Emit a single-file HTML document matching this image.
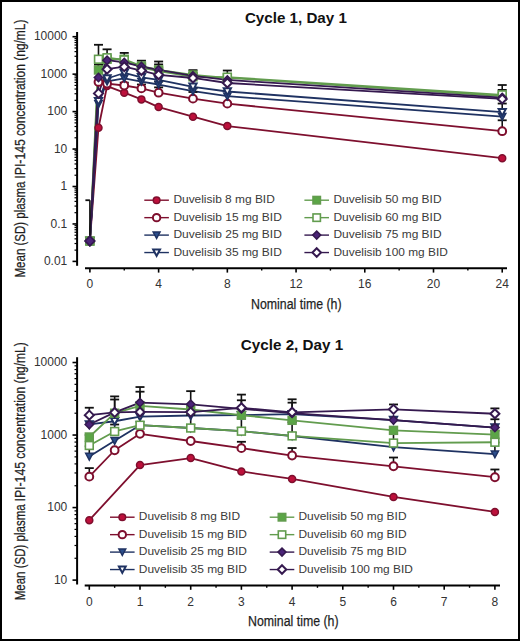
<!DOCTYPE html>
<html><head><meta charset="utf-8"><style>
html,body{margin:0;padding:0;background:#fff;}
body{width:520px;height:641px;overflow:hidden;}
svg{display:block;font-family:"Liberation Sans", sans-serif;}
</style></head><body>
<svg width="520" height="641" viewBox="0 0 520 641">
<rect x="0" y="0" width="520" height="641" fill="#fff"/>
<line x1="77.1" y1="32" x2="77.1" y2="265.8" stroke="#000" stroke-width="2"/>
<line x1="72.5" y1="36.70" x2="77.1" y2="36.70" stroke="#000" stroke-width="1.6"/>
<text x="67.30" y="40.30" font-size="12" text-anchor="end" font-weight="normal" fill="#333333">10000</text>
<line x1="72.5" y1="74.15" x2="77.1" y2="74.15" stroke="#000" stroke-width="1.6"/>
<text x="67.30" y="77.75" font-size="12" text-anchor="end" font-weight="normal" fill="#333333">1000</text>
<line x1="72.5" y1="111.60" x2="77.1" y2="111.60" stroke="#000" stroke-width="1.6"/>
<text x="67.30" y="115.20" font-size="12" text-anchor="end" font-weight="normal" fill="#333333">100</text>
<line x1="72.5" y1="149.05" x2="77.1" y2="149.05" stroke="#000" stroke-width="1.6"/>
<text x="67.30" y="152.65" font-size="12" text-anchor="end" font-weight="normal" fill="#333333">10</text>
<line x1="72.5" y1="186.50" x2="77.1" y2="186.50" stroke="#000" stroke-width="1.6"/>
<text x="67.30" y="190.10" font-size="12" text-anchor="end" font-weight="normal" fill="#333333">1</text>
<line x1="72.5" y1="223.95" x2="77.1" y2="223.95" stroke="#000" stroke-width="1.6"/>
<text x="67.30" y="227.55" font-size="12" text-anchor="end" font-weight="normal" fill="#333333">0.1</text>
<line x1="72.5" y1="261.40" x2="77.1" y2="261.40" stroke="#000" stroke-width="1.6"/>
<text x="67.30" y="265.00" font-size="12" text-anchor="end" font-weight="normal" fill="#333333">0.01</text>
<line x1="74.5" y1="250.13" x2="77.1" y2="250.13" stroke="#000" stroke-width="1.2"/>
<line x1="74.5" y1="243.53" x2="77.1" y2="243.53" stroke="#000" stroke-width="1.2"/>
<line x1="74.5" y1="238.85" x2="77.1" y2="238.85" stroke="#000" stroke-width="1.2"/>
<line x1="74.5" y1="235.22" x2="77.1" y2="235.22" stroke="#000" stroke-width="1.2"/>
<line x1="74.5" y1="232.26" x2="77.1" y2="232.26" stroke="#000" stroke-width="1.2"/>
<line x1="74.5" y1="229.75" x2="77.1" y2="229.75" stroke="#000" stroke-width="1.2"/>
<line x1="74.5" y1="227.58" x2="77.1" y2="227.58" stroke="#000" stroke-width="1.2"/>
<line x1="74.5" y1="225.66" x2="77.1" y2="225.66" stroke="#000" stroke-width="1.2"/>
<line x1="74.5" y1="212.68" x2="77.1" y2="212.68" stroke="#000" stroke-width="1.2"/>
<line x1="74.5" y1="206.08" x2="77.1" y2="206.08" stroke="#000" stroke-width="1.2"/>
<line x1="74.5" y1="201.40" x2="77.1" y2="201.40" stroke="#000" stroke-width="1.2"/>
<line x1="74.5" y1="197.77" x2="77.1" y2="197.77" stroke="#000" stroke-width="1.2"/>
<line x1="74.5" y1="194.81" x2="77.1" y2="194.81" stroke="#000" stroke-width="1.2"/>
<line x1="74.5" y1="192.30" x2="77.1" y2="192.30" stroke="#000" stroke-width="1.2"/>
<line x1="74.5" y1="190.13" x2="77.1" y2="190.13" stroke="#000" stroke-width="1.2"/>
<line x1="74.5" y1="188.21" x2="77.1" y2="188.21" stroke="#000" stroke-width="1.2"/>
<line x1="74.5" y1="175.23" x2="77.1" y2="175.23" stroke="#000" stroke-width="1.2"/>
<line x1="74.5" y1="168.63" x2="77.1" y2="168.63" stroke="#000" stroke-width="1.2"/>
<line x1="74.5" y1="163.95" x2="77.1" y2="163.95" stroke="#000" stroke-width="1.2"/>
<line x1="74.5" y1="160.32" x2="77.1" y2="160.32" stroke="#000" stroke-width="1.2"/>
<line x1="74.5" y1="157.36" x2="77.1" y2="157.36" stroke="#000" stroke-width="1.2"/>
<line x1="74.5" y1="154.85" x2="77.1" y2="154.85" stroke="#000" stroke-width="1.2"/>
<line x1="74.5" y1="152.68" x2="77.1" y2="152.68" stroke="#000" stroke-width="1.2"/>
<line x1="74.5" y1="150.76" x2="77.1" y2="150.76" stroke="#000" stroke-width="1.2"/>
<line x1="74.5" y1="137.78" x2="77.1" y2="137.78" stroke="#000" stroke-width="1.2"/>
<line x1="74.5" y1="131.18" x2="77.1" y2="131.18" stroke="#000" stroke-width="1.2"/>
<line x1="74.5" y1="126.50" x2="77.1" y2="126.50" stroke="#000" stroke-width="1.2"/>
<line x1="74.5" y1="122.87" x2="77.1" y2="122.87" stroke="#000" stroke-width="1.2"/>
<line x1="74.5" y1="119.91" x2="77.1" y2="119.91" stroke="#000" stroke-width="1.2"/>
<line x1="74.5" y1="117.40" x2="77.1" y2="117.40" stroke="#000" stroke-width="1.2"/>
<line x1="74.5" y1="115.23" x2="77.1" y2="115.23" stroke="#000" stroke-width="1.2"/>
<line x1="74.5" y1="113.31" x2="77.1" y2="113.31" stroke="#000" stroke-width="1.2"/>
<line x1="74.5" y1="100.33" x2="77.1" y2="100.33" stroke="#000" stroke-width="1.2"/>
<line x1="74.5" y1="93.73" x2="77.1" y2="93.73" stroke="#000" stroke-width="1.2"/>
<line x1="74.5" y1="89.05" x2="77.1" y2="89.05" stroke="#000" stroke-width="1.2"/>
<line x1="74.5" y1="85.42" x2="77.1" y2="85.42" stroke="#000" stroke-width="1.2"/>
<line x1="74.5" y1="82.46" x2="77.1" y2="82.46" stroke="#000" stroke-width="1.2"/>
<line x1="74.5" y1="79.95" x2="77.1" y2="79.95" stroke="#000" stroke-width="1.2"/>
<line x1="74.5" y1="77.78" x2="77.1" y2="77.78" stroke="#000" stroke-width="1.2"/>
<line x1="74.5" y1="75.86" x2="77.1" y2="75.86" stroke="#000" stroke-width="1.2"/>
<line x1="74.5" y1="62.88" x2="77.1" y2="62.88" stroke="#000" stroke-width="1.2"/>
<line x1="74.5" y1="56.28" x2="77.1" y2="56.28" stroke="#000" stroke-width="1.2"/>
<line x1="74.5" y1="51.60" x2="77.1" y2="51.60" stroke="#000" stroke-width="1.2"/>
<line x1="74.5" y1="47.97" x2="77.1" y2="47.97" stroke="#000" stroke-width="1.2"/>
<line x1="74.5" y1="45.01" x2="77.1" y2="45.01" stroke="#000" stroke-width="1.2"/>
<line x1="74.5" y1="42.50" x2="77.1" y2="42.50" stroke="#000" stroke-width="1.2"/>
<line x1="74.5" y1="40.33" x2="77.1" y2="40.33" stroke="#000" stroke-width="1.2"/>
<line x1="74.5" y1="38.41" x2="77.1" y2="38.41" stroke="#000" stroke-width="1.2"/>
<line x1="85" y1="268.2" x2="507" y2="268.2" stroke="#000" stroke-width="2"/>
<line x1="89.90" y1="268.2" x2="89.90" y2="272.59999999999997" stroke="#000" stroke-width="1.6"/>
<text x="89.90" y="288.40" font-size="12" text-anchor="middle" font-weight="normal" fill="#333333">0</text>
<line x1="158.62" y1="268.2" x2="158.62" y2="272.59999999999997" stroke="#000" stroke-width="1.6"/>
<text x="158.62" y="288.40" font-size="12" text-anchor="middle" font-weight="normal" fill="#333333">4</text>
<line x1="227.34" y1="268.2" x2="227.34" y2="272.59999999999997" stroke="#000" stroke-width="1.6"/>
<text x="227.34" y="288.40" font-size="12" text-anchor="middle" font-weight="normal" fill="#333333">8</text>
<line x1="296.06" y1="268.2" x2="296.06" y2="272.59999999999997" stroke="#000" stroke-width="1.6"/>
<text x="296.06" y="288.40" font-size="12" text-anchor="middle" font-weight="normal" fill="#333333">12</text>
<line x1="364.78" y1="268.2" x2="364.78" y2="272.59999999999997" stroke="#000" stroke-width="1.6"/>
<text x="364.78" y="288.40" font-size="12" text-anchor="middle" font-weight="normal" fill="#333333">16</text>
<line x1="433.50" y1="268.2" x2="433.50" y2="272.59999999999997" stroke="#000" stroke-width="1.6"/>
<text x="433.50" y="288.40" font-size="12" text-anchor="middle" font-weight="normal" fill="#333333">20</text>
<line x1="502.22" y1="268.2" x2="502.22" y2="272.59999999999997" stroke="#000" stroke-width="1.6"/>
<text x="502.22" y="288.40" font-size="12" text-anchor="middle" font-weight="normal" fill="#333333">24</text>
<line x1="124.26" y1="268.2" x2="124.26" y2="270.59999999999997" stroke="#000" stroke-width="1.4"/>
<line x1="192.98" y1="268.2" x2="192.98" y2="270.59999999999997" stroke="#000" stroke-width="1.4"/>
<line x1="261.70" y1="268.2" x2="261.70" y2="270.59999999999997" stroke="#000" stroke-width="1.4"/>
<line x1="330.42" y1="268.2" x2="330.42" y2="270.59999999999997" stroke="#000" stroke-width="1.4"/>
<line x1="399.14" y1="268.2" x2="399.14" y2="270.59999999999997" stroke="#000" stroke-width="1.4"/>
<line x1="467.86" y1="268.2" x2="467.86" y2="270.59999999999997" stroke="#000" stroke-width="1.4"/>
<polyline points="89.90,241.02 98.49,127.77 107.08,86.09 124.26,92.68 141.44,99.38 158.62,107.08 192.98,116.72 227.34,126.10 502.22,158.19" fill="none" stroke="#7e0f2e" stroke-width="1.8" stroke-linejoin="round"/>
<polyline points="89.90,241.02 98.49,81.92 107.08,83.58 124.26,85.49 141.44,88.38 158.62,92.68 192.98,98.63 227.34,103.65 502.22,131.18" fill="none" stroke="#7e0f2e" stroke-width="1.8" stroke-linejoin="round"/>
<polyline points="89.90,241.02 98.49,103.96 107.08,81.41 124.26,78.32 141.44,81.61 158.62,84.51 192.98,91.18 227.34,96.18 502.22,116.61" fill="none" stroke="#1f3262" stroke-width="1.8" stroke-linejoin="round"/>
<polyline points="89.90,241.02 98.49,101.16 107.08,78.49 124.26,72.99 141.44,77.30 158.62,79.95 192.98,86.82 227.34,91.51 502.22,112.10" fill="none" stroke="#1f3262" stroke-width="1.8" stroke-linejoin="round"/>
<polyline points="89.90,241.02 98.49,70.01 107.08,59.25 124.26,59.25 141.44,66.01 158.62,69.88 192.98,74.98 227.34,77.78 502.22,96.06" fill="none" stroke="#629c4e" stroke-width="1.8" stroke-linejoin="round"/>
<polyline points="89.90,241.02 98.49,59.25 107.08,57.76 124.26,59.91 141.44,67.56 158.62,71.18 192.98,76.79 227.34,77.18 502.22,94.85" fill="none" stroke="#629c4e" stroke-width="1.8" stroke-linejoin="round"/>
<polyline points="89.90,241.02 98.49,77.48 107.08,60.22 124.26,62.40 141.44,66.51 158.62,69.88 192.98,75.86 227.34,79.95 502.22,97.57" fill="none" stroke="#35194f" stroke-width="1.8" stroke-linejoin="round"/>
<polyline points="89.90,241.02 98.49,93.41 107.08,69.20 124.26,66.71 141.44,70.52 158.62,74.81 192.98,77.98 227.34,83.01 502.22,98.92" fill="none" stroke="#35194f" stroke-width="1.8" stroke-linejoin="round"/>
<line x1="98.49" y1="59.25" x2="98.49" y2="44.79" stroke="#111" stroke-width="1.6"/>
<line x1="93.99" y1="44.79" x2="102.99" y2="44.79" stroke="#111" stroke-width="1.8"/>
<line x1="98.49" y1="81.92" x2="98.49" y2="80.91" stroke="#111" stroke-width="1.6"/>
<line x1="93.99" y1="80.91" x2="102.99" y2="80.91" stroke="#111" stroke-width="1.8"/>
<line x1="98.49" y1="70.01" x2="98.49" y2="64.59" stroke="#111" stroke-width="1.6"/>
<line x1="93.99" y1="64.59" x2="102.99" y2="64.59" stroke="#111" stroke-width="1.8"/>
<line x1="107.08" y1="57.76" x2="107.08" y2="49.33" stroke="#111" stroke-width="1.6"/>
<line x1="102.58" y1="49.33" x2="111.58" y2="49.33" stroke="#111" stroke-width="1.8"/>
<line x1="124.26" y1="59.25" x2="124.26" y2="52.91" stroke="#111" stroke-width="1.6"/>
<line x1="119.76" y1="52.91" x2="128.76" y2="52.91" stroke="#111" stroke-width="1.8"/>
<line x1="124.26" y1="85.49" x2="124.26" y2="82.62" stroke="#111" stroke-width="1.6"/>
<line x1="119.76" y1="82.62" x2="128.76" y2="82.62" stroke="#111" stroke-width="1.8"/>
<line x1="141.44" y1="66.01" x2="141.44" y2="60.67" stroke="#111" stroke-width="1.6"/>
<line x1="136.94" y1="60.67" x2="145.94" y2="60.67" stroke="#111" stroke-width="1.8"/>
<line x1="141.44" y1="66.51" x2="141.44" y2="65.33" stroke="#111" stroke-width="1.6"/>
<line x1="136.94" y1="65.33" x2="145.94" y2="65.33" stroke="#111" stroke-width="1.8"/>
<line x1="141.44" y1="88.38" x2="141.44" y2="84.48" stroke="#111" stroke-width="1.6"/>
<line x1="136.94" y1="84.48" x2="145.94" y2="84.48" stroke="#111" stroke-width="1.8"/>
<line x1="158.62" y1="69.88" x2="158.62" y2="61.51" stroke="#111" stroke-width="1.6"/>
<line x1="154.12" y1="61.51" x2="163.12" y2="61.51" stroke="#111" stroke-width="1.8"/>
<line x1="158.62" y1="69.88" x2="158.62" y2="64.41" stroke="#111" stroke-width="1.6"/>
<line x1="154.12" y1="64.41" x2="163.12" y2="64.41" stroke="#111" stroke-width="1.8"/>
<line x1="158.62" y1="84.51" x2="158.62" y2="81.61" stroke="#111" stroke-width="1.6"/>
<line x1="154.12" y1="81.61" x2="163.12" y2="81.61" stroke="#111" stroke-width="1.8"/>
<line x1="158.62" y1="92.68" x2="158.62" y2="87.39" stroke="#111" stroke-width="1.6"/>
<line x1="154.12" y1="87.39" x2="163.12" y2="87.39" stroke="#111" stroke-width="1.8"/>
<line x1="192.98" y1="74.98" x2="192.98" y2="70.13" stroke="#111" stroke-width="1.6"/>
<line x1="188.48" y1="70.13" x2="197.48" y2="70.13" stroke="#111" stroke-width="1.8"/>
<line x1="192.98" y1="75.86" x2="192.98" y2="73.67" stroke="#111" stroke-width="1.6"/>
<line x1="188.48" y1="73.67" x2="197.48" y2="73.67" stroke="#111" stroke-width="1.8"/>
<line x1="192.98" y1="98.63" x2="192.98" y2="92.03" stroke="#111" stroke-width="1.6"/>
<line x1="188.48" y1="92.03" x2="197.48" y2="92.03" stroke="#111" stroke-width="1.8"/>
<line x1="192.98" y1="91.18" x2="192.98" y2="88.26" stroke="#111" stroke-width="1.6"/>
<line x1="188.48" y1="88.26" x2="197.48" y2="88.26" stroke="#111" stroke-width="1.8"/>
<line x1="227.34" y1="77.18" x2="227.34" y2="70.52" stroke="#111" stroke-width="1.6"/>
<line x1="222.84" y1="70.52" x2="231.84" y2="70.52" stroke="#111" stroke-width="1.8"/>
<line x1="502.22" y1="94.85" x2="502.22" y2="85.01" stroke="#111" stroke-width="1.6"/>
<line x1="497.72" y1="85.01" x2="506.72" y2="85.01" stroke="#111" stroke-width="1.8"/>
<line x1="502.22" y1="96.06" x2="502.22" y2="89.89" stroke="#111" stroke-width="1.6"/>
<line x1="497.72" y1="89.89" x2="506.72" y2="89.89" stroke="#111" stroke-width="1.8"/>
<line x1="502.22" y1="112.10" x2="502.22" y2="103.55" stroke="#111" stroke-width="1.6"/>
<line x1="497.72" y1="103.55" x2="506.72" y2="103.55" stroke="#111" stroke-width="1.8"/>
<line x1="502.22" y1="131.18" x2="502.22" y2="120.29" stroke="#111" stroke-width="1.6"/>
<line x1="497.72" y1="120.29" x2="506.72" y2="120.29" stroke="#111" stroke-width="1.8"/>
<line x1="89.90" y1="241.02" x2="89.90" y2="200.23" stroke="#111" stroke-width="1.6"/>
<line x1="85.40" y1="200.23" x2="89.90" y2="200.23" stroke="#111" stroke-width="1.8"/>
<circle cx="89.90" cy="241.02" r="3.50" fill="#bd103b" stroke="#7e0f2e" stroke-width="1.5"/>
<circle cx="98.49" cy="127.77" r="3.50" fill="#bd103b" stroke="#7e0f2e" stroke-width="1.5"/>
<circle cx="107.08" cy="86.09" r="3.50" fill="#bd103b" stroke="#7e0f2e" stroke-width="1.5"/>
<circle cx="124.26" cy="92.68" r="3.50" fill="#bd103b" stroke="#7e0f2e" stroke-width="1.5"/>
<circle cx="141.44" cy="99.38" r="3.50" fill="#bd103b" stroke="#7e0f2e" stroke-width="1.5"/>
<circle cx="158.62" cy="107.08" r="3.50" fill="#bd103b" stroke="#7e0f2e" stroke-width="1.5"/>
<circle cx="192.98" cy="116.72" r="3.50" fill="#bd103b" stroke="#7e0f2e" stroke-width="1.5"/>
<circle cx="227.34" cy="126.10" r="3.50" fill="#bd103b" stroke="#7e0f2e" stroke-width="1.5"/>
<circle cx="502.22" cy="158.19" r="3.50" fill="#bd103b" stroke="#7e0f2e" stroke-width="1.5"/>
<circle cx="89.90" cy="241.02" r="3.90" fill="#ffffff" stroke="#7e0f2e" stroke-width="2.0"/>
<circle cx="98.49" cy="81.92" r="3.90" fill="#ffffff" stroke="#7e0f2e" stroke-width="2.0"/>
<circle cx="107.08" cy="83.58" r="3.90" fill="#ffffff" stroke="#7e0f2e" stroke-width="2.0"/>
<circle cx="124.26" cy="85.49" r="3.90" fill="#ffffff" stroke="#7e0f2e" stroke-width="2.0"/>
<circle cx="141.44" cy="88.38" r="3.90" fill="#ffffff" stroke="#7e0f2e" stroke-width="2.0"/>
<circle cx="158.62" cy="92.68" r="3.90" fill="#ffffff" stroke="#7e0f2e" stroke-width="2.0"/>
<circle cx="192.98" cy="98.63" r="3.90" fill="#ffffff" stroke="#7e0f2e" stroke-width="2.0"/>
<circle cx="227.34" cy="103.65" r="3.90" fill="#ffffff" stroke="#7e0f2e" stroke-width="2.0"/>
<circle cx="502.22" cy="131.18" r="3.90" fill="#ffffff" stroke="#7e0f2e" stroke-width="2.0"/>
<path d="M86.30,237.82H93.50L89.90,244.62Z" fill="#2c4f8c" stroke="#1f3262" stroke-width="1.5" stroke-linejoin="miter"/>
<path d="M94.89,100.76H102.09L98.49,107.56Z" fill="#2c4f8c" stroke="#1f3262" stroke-width="1.5" stroke-linejoin="miter"/>
<path d="M103.48,78.21H110.68L107.08,85.01Z" fill="#2c4f8c" stroke="#1f3262" stroke-width="1.5" stroke-linejoin="miter"/>
<path d="M120.66,75.12H127.86L124.26,81.92Z" fill="#2c4f8c" stroke="#1f3262" stroke-width="1.5" stroke-linejoin="miter"/>
<path d="M137.84,78.41H145.04L141.44,85.21Z" fill="#2c4f8c" stroke="#1f3262" stroke-width="1.5" stroke-linejoin="miter"/>
<path d="M155.02,81.31H162.22L158.62,88.11Z" fill="#2c4f8c" stroke="#1f3262" stroke-width="1.5" stroke-linejoin="miter"/>
<path d="M189.38,87.98H196.58L192.98,94.78Z" fill="#2c4f8c" stroke="#1f3262" stroke-width="1.5" stroke-linejoin="miter"/>
<path d="M223.74,92.98H230.94L227.34,99.78Z" fill="#2c4f8c" stroke="#1f3262" stroke-width="1.5" stroke-linejoin="miter"/>
<path d="M498.62,113.41H505.82L502.22,120.21Z" fill="#2c4f8c" stroke="#1f3262" stroke-width="1.5" stroke-linejoin="miter"/>
<path d="M86.30,237.82H93.50L89.90,244.62Z" fill="#ffffff" stroke="#1f3262" stroke-width="2.0" stroke-linejoin="miter"/>
<path d="M94.89,97.96H102.09L98.49,104.76Z" fill="#ffffff" stroke="#1f3262" stroke-width="2.0" stroke-linejoin="miter"/>
<path d="M103.48,75.29H110.68L107.08,82.09Z" fill="#ffffff" stroke="#1f3262" stroke-width="2.0" stroke-linejoin="miter"/>
<path d="M120.66,69.79H127.86L124.26,76.59Z" fill="#ffffff" stroke="#1f3262" stroke-width="2.0" stroke-linejoin="miter"/>
<path d="M137.84,74.10H145.04L141.44,80.90Z" fill="#ffffff" stroke="#1f3262" stroke-width="2.0" stroke-linejoin="miter"/>
<path d="M155.02,76.75H162.22L158.62,83.55Z" fill="#ffffff" stroke="#1f3262" stroke-width="2.0" stroke-linejoin="miter"/>
<path d="M189.38,83.62H196.58L192.98,90.42Z" fill="#ffffff" stroke="#1f3262" stroke-width="2.0" stroke-linejoin="miter"/>
<path d="M223.74,88.31H230.94L227.34,95.11Z" fill="#ffffff" stroke="#1f3262" stroke-width="2.0" stroke-linejoin="miter"/>
<path d="M498.62,108.90H505.82L502.22,115.70Z" fill="#ffffff" stroke="#1f3262" stroke-width="2.0" stroke-linejoin="miter"/>
<rect x="86.00" y="237.12" width="7.80" height="7.80" fill="#5ba646" stroke="#629c4e" stroke-width="1.6"/>
<rect x="94.59" y="66.11" width="7.80" height="7.80" fill="#5ba646" stroke="#629c4e" stroke-width="1.6"/>
<rect x="103.18" y="55.35" width="7.80" height="7.80" fill="#5ba646" stroke="#629c4e" stroke-width="1.6"/>
<rect x="120.36" y="55.35" width="7.80" height="7.80" fill="#5ba646" stroke="#629c4e" stroke-width="1.6"/>
<rect x="137.54" y="62.11" width="7.80" height="7.80" fill="#5ba646" stroke="#629c4e" stroke-width="1.6"/>
<rect x="154.72" y="65.98" width="7.80" height="7.80" fill="#5ba646" stroke="#629c4e" stroke-width="1.6"/>
<rect x="189.08" y="71.08" width="7.80" height="7.80" fill="#5ba646" stroke="#629c4e" stroke-width="1.6"/>
<rect x="223.44" y="73.88" width="7.80" height="7.80" fill="#5ba646" stroke="#629c4e" stroke-width="1.6"/>
<rect x="498.32" y="92.16" width="7.80" height="7.80" fill="#5ba646" stroke="#629c4e" stroke-width="1.6"/>
<rect x="86.00" y="237.12" width="7.80" height="7.80" fill="#ffffff" stroke="#629c4e" stroke-width="1.6"/>
<rect x="94.59" y="55.35" width="7.80" height="7.80" fill="#ffffff" stroke="#629c4e" stroke-width="1.6"/>
<rect x="103.18" y="53.86" width="7.80" height="7.80" fill="#ffffff" stroke="#629c4e" stroke-width="1.6"/>
<rect x="120.36" y="56.01" width="7.80" height="7.80" fill="#ffffff" stroke="#629c4e" stroke-width="1.6"/>
<rect x="137.54" y="63.66" width="7.80" height="7.80" fill="#ffffff" stroke="#629c4e" stroke-width="1.6"/>
<rect x="154.72" y="67.28" width="7.80" height="7.80" fill="#ffffff" stroke="#629c4e" stroke-width="1.6"/>
<rect x="189.08" y="72.89" width="7.80" height="7.80" fill="#ffffff" stroke="#629c4e" stroke-width="1.6"/>
<rect x="223.44" y="73.28" width="7.80" height="7.80" fill="#ffffff" stroke="#629c4e" stroke-width="1.6"/>
<rect x="498.32" y="90.95" width="7.80" height="7.80" fill="#ffffff" stroke="#629c4e" stroke-width="1.6"/>
<path d="M89.90,236.82L94.10,241.02L89.90,245.22L85.70,241.02Z" fill="#4b2378" stroke="#35194f" stroke-width="1.5"/>
<path d="M98.49,73.28L102.69,77.48L98.49,81.68L94.29,77.48Z" fill="#4b2378" stroke="#35194f" stroke-width="1.5"/>
<path d="M107.08,56.02L111.28,60.22L107.08,64.42L102.88,60.22Z" fill="#4b2378" stroke="#35194f" stroke-width="1.5"/>
<path d="M124.26,58.20L128.46,62.40L124.26,66.60L120.06,62.40Z" fill="#4b2378" stroke="#35194f" stroke-width="1.5"/>
<path d="M141.44,62.31L145.64,66.51L141.44,70.71L137.24,66.51Z" fill="#4b2378" stroke="#35194f" stroke-width="1.5"/>
<path d="M158.62,65.68L162.82,69.88L158.62,74.08L154.42,69.88Z" fill="#4b2378" stroke="#35194f" stroke-width="1.5"/>
<path d="M192.98,71.66L197.18,75.86L192.98,80.06L188.78,75.86Z" fill="#4b2378" stroke="#35194f" stroke-width="1.5"/>
<path d="M227.34,75.75L231.54,79.95L227.34,84.15L223.14,79.95Z" fill="#4b2378" stroke="#35194f" stroke-width="1.5"/>
<path d="M502.22,93.37L506.42,97.57L502.22,101.77L498.02,97.57Z" fill="#4b2378" stroke="#35194f" stroke-width="1.5"/>
<path d="M89.90,236.52L94.40,241.02L89.90,245.52L85.40,241.02Z" fill="#ffffff" stroke="#35194f" stroke-width="2.0"/>
<path d="M98.49,88.91L102.99,93.41L98.49,97.91L93.99,93.41Z" fill="#ffffff" stroke="#35194f" stroke-width="2.0"/>
<path d="M107.08,64.70L111.58,69.20L107.08,73.70L102.58,69.20Z" fill="#ffffff" stroke="#35194f" stroke-width="2.0"/>
<path d="M124.26,62.21L128.76,66.71L124.26,71.21L119.76,66.71Z" fill="#ffffff" stroke="#35194f" stroke-width="2.0"/>
<path d="M141.44,66.02L145.94,70.52L141.44,75.02L136.94,70.52Z" fill="#ffffff" stroke="#35194f" stroke-width="2.0"/>
<path d="M158.62,70.31L163.12,74.81L158.62,79.31L154.12,74.81Z" fill="#ffffff" stroke="#35194f" stroke-width="2.0"/>
<path d="M192.98,73.48L197.48,77.98L192.98,82.48L188.48,77.98Z" fill="#ffffff" stroke="#35194f" stroke-width="2.0"/>
<path d="M227.34,78.51L231.84,83.01L227.34,87.51L222.84,83.01Z" fill="#ffffff" stroke="#35194f" stroke-width="2.0"/>
<path d="M502.22,94.42L506.72,98.92L502.22,103.42L497.72,98.92Z" fill="#ffffff" stroke="#35194f" stroke-width="2.0"/>
<path d="M89.90,236.32L94.60,241.02L89.90,245.73L85.20,241.02Z" fill="#4b2378" stroke="#35194f" stroke-width="1.5"/>
<line x1="144.30" y1="200.20" x2="168.90" y2="200.20" stroke="#7e0f2e" stroke-width="1.4"/>
<circle cx="156.60" cy="200.20" r="3.32" fill="#bd103b" stroke="#7e0f2e" stroke-width="1.5"/>
<text x="173.40" y="203.40" font-size="11" text-anchor="start" font-weight="normal" fill="#3a3a3a" textLength="101.4" lengthAdjust="spacingAndGlyphs">Duvelisib 8 mg BID</text>
<line x1="144.30" y1="217.65" x2="168.90" y2="217.65" stroke="#7e0f2e" stroke-width="1.4"/>
<circle cx="156.60" cy="217.65" r="3.70" fill="#ffffff" stroke="#7e0f2e" stroke-width="2.0"/>
<text x="173.40" y="220.85" font-size="11" text-anchor="start" font-weight="normal" fill="#3a3a3a" textLength="108.4" lengthAdjust="spacingAndGlyphs">Duvelisib 15 mg BID</text>
<line x1="144.30" y1="235.10" x2="168.90" y2="235.10" stroke="#1f3262" stroke-width="1.4"/>
<path d="M153.18,232.06H160.02L156.60,238.52Z" fill="#2c4f8c" stroke="#1f3262" stroke-width="1.5" stroke-linejoin="miter"/>
<text x="173.40" y="238.30" font-size="11" text-anchor="start" font-weight="normal" fill="#3a3a3a" textLength="108.4" lengthAdjust="spacingAndGlyphs">Duvelisib 25 mg BID</text>
<line x1="144.30" y1="252.55" x2="168.90" y2="252.55" stroke="#1f3262" stroke-width="1.4"/>
<path d="M153.18,249.51H160.02L156.60,255.97Z" fill="#ffffff" stroke="#1f3262" stroke-width="2.0" stroke-linejoin="miter"/>
<text x="173.40" y="255.75" font-size="11" text-anchor="start" font-weight="normal" fill="#3a3a3a" textLength="108.4" lengthAdjust="spacingAndGlyphs">Duvelisib 35 mg BID</text>
<line x1="304.40" y1="200.20" x2="329.00" y2="200.20" stroke="#629c4e" stroke-width="1.4"/>
<rect x="313.00" y="196.49" width="7.41" height="7.41" fill="#5ba646" stroke="#629c4e" stroke-width="1.6"/>
<text x="333.50" y="203.40" font-size="11" text-anchor="start" font-weight="normal" fill="#3a3a3a" textLength="108.0" lengthAdjust="spacingAndGlyphs">Duvelisib 50 mg BID</text>
<line x1="304.40" y1="217.65" x2="329.00" y2="217.65" stroke="#629c4e" stroke-width="1.4"/>
<rect x="313.00" y="213.94" width="7.41" height="7.41" fill="#ffffff" stroke="#629c4e" stroke-width="1.6"/>
<text x="333.50" y="220.85" font-size="11" text-anchor="start" font-weight="normal" fill="#3a3a3a" textLength="108.0" lengthAdjust="spacingAndGlyphs">Duvelisib 60 mg BID</text>
<line x1="304.40" y1="235.10" x2="329.00" y2="235.10" stroke="#35194f" stroke-width="1.4"/>
<path d="M316.70,231.11L320.69,235.10L316.70,239.09L312.71,235.10Z" fill="#4b2378" stroke="#35194f" stroke-width="1.5"/>
<text x="333.50" y="238.30" font-size="11" text-anchor="start" font-weight="normal" fill="#3a3a3a" textLength="108.0" lengthAdjust="spacingAndGlyphs">Duvelisib 75 mg BID</text>
<line x1="304.40" y1="252.55" x2="329.00" y2="252.55" stroke="#35194f" stroke-width="1.4"/>
<path d="M316.70,248.27L320.97,252.55L316.70,256.82L312.43,252.55Z" fill="#ffffff" stroke="#35194f" stroke-width="2.0"/>
<text x="333.50" y="255.75" font-size="11" text-anchor="start" font-weight="normal" fill="#3a3a3a" textLength="114.3" lengthAdjust="spacingAndGlyphs">Duvelisib 100 mg BID</text>
<text x="244.90" y="23.40" font-size="14.5" text-anchor="start" font-weight="bold" fill="#111" textLength="102.0" lengthAdjust="spacingAndGlyphs">Cycle 1, Day 1</text>
<text x="251.00" y="308.90" font-size="15.2" text-anchor="start" font-weight="normal" fill="#1e1e1e" textLength="90.6" lengthAdjust="spacingAndGlyphs" stroke="#1e1e1e" stroke-width="0.25">Nominal time (h)</text>
<text x="0" y="0" transform="translate(25.0,277.50) rotate(-90)" font-size="15" fill="#1e1e1e" stroke="#1e1e1e" stroke-width="0.25" textLength="96.0" lengthAdjust="spacingAndGlyphs">Mean (SD) plasma</text>
<text x="0" y="0" transform="translate(25.0,178.70) rotate(-90)" font-size="15" fill="#1e1e1e" stroke="#1e1e1e" stroke-width="0.25" textLength="39.6" lengthAdjust="spacingAndGlyphs">IPI-145</text>
<text x="0" y="0" transform="translate(25.0,136.00) rotate(-90)" font-size="15" fill="#1e1e1e" stroke="#1e1e1e" stroke-width="0.25" textLength="116.5" lengthAdjust="spacingAndGlyphs">concentration (ng/mL)</text>
<line x1="77.1" y1="357.2" x2="77.1" y2="584.5" stroke="#000" stroke-width="2"/>
<line x1="72.5" y1="362.51" x2="77.1" y2="362.51" stroke="#000" stroke-width="1.6"/>
<text x="67.30" y="366.11" font-size="12" text-anchor="end" font-weight="normal" fill="#333333">10000</text>
<line x1="72.5" y1="435.04" x2="77.1" y2="435.04" stroke="#000" stroke-width="1.6"/>
<text x="67.30" y="438.64" font-size="12" text-anchor="end" font-weight="normal" fill="#333333">1000</text>
<line x1="72.5" y1="507.57" x2="77.1" y2="507.57" stroke="#000" stroke-width="1.6"/>
<text x="67.30" y="511.17" font-size="12" text-anchor="end" font-weight="normal" fill="#333333">100</text>
<line x1="72.5" y1="580.10" x2="77.1" y2="580.10" stroke="#000" stroke-width="1.6"/>
<text x="67.30" y="583.70" font-size="12" text-anchor="end" font-weight="normal" fill="#333333">10</text>
<line x1="74.5" y1="558.27" x2="77.1" y2="558.27" stroke="#000" stroke-width="1.2"/>
<line x1="74.5" y1="545.49" x2="77.1" y2="545.49" stroke="#000" stroke-width="1.2"/>
<line x1="74.5" y1="536.43" x2="77.1" y2="536.43" stroke="#000" stroke-width="1.2"/>
<line x1="74.5" y1="529.40" x2="77.1" y2="529.40" stroke="#000" stroke-width="1.2"/>
<line x1="74.5" y1="523.66" x2="77.1" y2="523.66" stroke="#000" stroke-width="1.2"/>
<line x1="74.5" y1="518.81" x2="77.1" y2="518.81" stroke="#000" stroke-width="1.2"/>
<line x1="74.5" y1="514.60" x2="77.1" y2="514.60" stroke="#000" stroke-width="1.2"/>
<line x1="74.5" y1="510.89" x2="77.1" y2="510.89" stroke="#000" stroke-width="1.2"/>
<line x1="74.5" y1="485.74" x2="77.1" y2="485.74" stroke="#000" stroke-width="1.2"/>
<line x1="74.5" y1="472.96" x2="77.1" y2="472.96" stroke="#000" stroke-width="1.2"/>
<line x1="74.5" y1="463.90" x2="77.1" y2="463.90" stroke="#000" stroke-width="1.2"/>
<line x1="74.5" y1="456.87" x2="77.1" y2="456.87" stroke="#000" stroke-width="1.2"/>
<line x1="74.5" y1="451.13" x2="77.1" y2="451.13" stroke="#000" stroke-width="1.2"/>
<line x1="74.5" y1="446.28" x2="77.1" y2="446.28" stroke="#000" stroke-width="1.2"/>
<line x1="74.5" y1="442.07" x2="77.1" y2="442.07" stroke="#000" stroke-width="1.2"/>
<line x1="74.5" y1="438.36" x2="77.1" y2="438.36" stroke="#000" stroke-width="1.2"/>
<line x1="74.5" y1="413.21" x2="77.1" y2="413.21" stroke="#000" stroke-width="1.2"/>
<line x1="74.5" y1="400.43" x2="77.1" y2="400.43" stroke="#000" stroke-width="1.2"/>
<line x1="74.5" y1="391.37" x2="77.1" y2="391.37" stroke="#000" stroke-width="1.2"/>
<line x1="74.5" y1="384.34" x2="77.1" y2="384.34" stroke="#000" stroke-width="1.2"/>
<line x1="74.5" y1="378.60" x2="77.1" y2="378.60" stroke="#000" stroke-width="1.2"/>
<line x1="74.5" y1="373.75" x2="77.1" y2="373.75" stroke="#000" stroke-width="1.2"/>
<line x1="74.5" y1="369.54" x2="77.1" y2="369.54" stroke="#000" stroke-width="1.2"/>
<line x1="74.5" y1="365.83" x2="77.1" y2="365.83" stroke="#000" stroke-width="1.2"/>
<line x1="84.7" y1="585.4" x2="500" y2="585.4" stroke="#000" stroke-width="2"/>
<line x1="89.30" y1="585.4" x2="89.30" y2="589.8" stroke="#000" stroke-width="1.6"/>
<text x="89.30" y="605.60" font-size="12" text-anchor="middle" font-weight="normal" fill="#333333">0</text>
<line x1="140.00" y1="585.4" x2="140.00" y2="589.8" stroke="#000" stroke-width="1.6"/>
<text x="140.00" y="605.60" font-size="12" text-anchor="middle" font-weight="normal" fill="#333333">1</text>
<line x1="190.70" y1="585.4" x2="190.70" y2="589.8" stroke="#000" stroke-width="1.6"/>
<text x="190.70" y="605.60" font-size="12" text-anchor="middle" font-weight="normal" fill="#333333">2</text>
<line x1="241.40" y1="585.4" x2="241.40" y2="589.8" stroke="#000" stroke-width="1.6"/>
<text x="241.40" y="605.60" font-size="12" text-anchor="middle" font-weight="normal" fill="#333333">3</text>
<line x1="292.10" y1="585.4" x2="292.10" y2="589.8" stroke="#000" stroke-width="1.6"/>
<text x="292.10" y="605.60" font-size="12" text-anchor="middle" font-weight="normal" fill="#333333">4</text>
<line x1="342.80" y1="585.4" x2="342.80" y2="589.8" stroke="#000" stroke-width="1.6"/>
<text x="342.80" y="605.60" font-size="12" text-anchor="middle" font-weight="normal" fill="#333333">5</text>
<line x1="393.50" y1="585.4" x2="393.50" y2="589.8" stroke="#000" stroke-width="1.6"/>
<text x="393.50" y="605.60" font-size="12" text-anchor="middle" font-weight="normal" fill="#333333">6</text>
<line x1="444.20" y1="585.4" x2="444.20" y2="589.8" stroke="#000" stroke-width="1.6"/>
<text x="444.20" y="605.60" font-size="12" text-anchor="middle" font-weight="normal" fill="#333333">7</text>
<line x1="494.90" y1="585.4" x2="494.90" y2="589.8" stroke="#000" stroke-width="1.6"/>
<text x="494.90" y="605.60" font-size="12" text-anchor="middle" font-weight="normal" fill="#333333">8</text>
<line x1="114.65" y1="585.4" x2="114.65" y2="587.8" stroke="#000" stroke-width="1.4"/>
<line x1="165.35" y1="585.4" x2="165.35" y2="587.8" stroke="#000" stroke-width="1.4"/>
<line x1="216.05" y1="585.4" x2="216.05" y2="587.8" stroke="#000" stroke-width="1.4"/>
<line x1="266.75" y1="585.4" x2="266.75" y2="587.8" stroke="#000" stroke-width="1.4"/>
<line x1="317.45" y1="585.4" x2="317.45" y2="587.8" stroke="#000" stroke-width="1.4"/>
<line x1="368.15" y1="585.4" x2="368.15" y2="587.8" stroke="#000" stroke-width="1.4"/>
<line x1="418.85" y1="585.4" x2="418.85" y2="587.8" stroke="#000" stroke-width="1.4"/>
<line x1="469.55" y1="585.4" x2="469.55" y2="587.8" stroke="#000" stroke-width="1.4"/>
<polyline points="89.30,520.18 140.00,465.02 190.70,458.09 241.40,471.43 292.10,478.96 393.50,496.97 494.90,511.96" fill="none" stroke="#7e0f2e" stroke-width="1.8" stroke-linejoin="round"/>
<polyline points="89.30,476.64 114.65,450.25 140.00,433.80 190.70,440.99 241.40,448.13 292.10,455.52 393.50,466.27 494.90,477.23" fill="none" stroke="#7e0f2e" stroke-width="1.8" stroke-linejoin="round"/>
<polyline points="89.30,456.44 114.65,440.80 140.00,425.19 190.70,428.01 241.40,431.19 292.10,436.00 393.50,447.19 494.90,454.16" fill="none" stroke="#1f3262" stroke-width="1.8" stroke-linejoin="round"/>
<polyline points="89.30,424.44 114.65,421.24 140.00,416.70 190.70,415.49 241.40,415.16 292.10,414.17 393.50,420.04 494.90,427.56" fill="none" stroke="#1f3262" stroke-width="1.8" stroke-linejoin="round"/>
<polyline points="89.30,436.99 114.65,413.21 140.00,405.80 190.70,409.50 241.40,415.24 292.10,420.33 393.50,430.36 494.90,434.57" fill="none" stroke="#629c4e" stroke-width="1.8" stroke-linejoin="round"/>
<polyline points="89.30,445.48 114.65,431.47 140.00,425.19 190.70,428.01 241.40,431.19 292.10,435.87 393.50,443.07 494.90,442.23" fill="none" stroke="#629c4e" stroke-width="1.8" stroke-linejoin="round"/>
<polyline points="89.30,424.53 114.65,412.43 140.00,402.61 190.70,404.34 241.40,408.80 292.10,413.21 393.50,420.04 494.90,427.56" fill="none" stroke="#35194f" stroke-width="1.8" stroke-linejoin="round"/>
<polyline points="89.30,415.16 114.65,412.43 140.00,411.97 190.70,412.12 241.40,407.79 292.10,412.28 393.50,409.36 494.90,413.76" fill="none" stroke="#35194f" stroke-width="1.8" stroke-linejoin="round"/>
<line x1="89.30" y1="415.16" x2="89.30" y2="407.73" stroke="#111" stroke-width="1.6"/>
<line x1="84.80" y1="407.73" x2="93.80" y2="407.73" stroke="#111" stroke-width="1.8"/>
<line x1="89.30" y1="476.64" x2="89.30" y2="468.11" stroke="#111" stroke-width="1.6"/>
<line x1="84.80" y1="468.11" x2="93.80" y2="468.11" stroke="#111" stroke-width="1.8"/>
<line x1="114.65" y1="412.43" x2="114.65" y2="396.40" stroke="#111" stroke-width="1.6"/>
<line x1="110.15" y1="396.40" x2="119.15" y2="396.40" stroke="#111" stroke-width="1.8"/>
<line x1="114.65" y1="413.21" x2="114.65" y2="399.50" stroke="#111" stroke-width="1.6"/>
<line x1="110.15" y1="399.50" x2="119.15" y2="399.50" stroke="#111" stroke-width="1.8"/>
<line x1="114.65" y1="431.47" x2="114.65" y2="424.53" stroke="#111" stroke-width="1.6"/>
<line x1="110.15" y1="424.53" x2="119.15" y2="424.53" stroke="#111" stroke-width="1.8"/>
<line x1="140.00" y1="402.61" x2="140.00" y2="387.04" stroke="#111" stroke-width="1.6"/>
<line x1="135.50" y1="387.04" x2="144.50" y2="387.04" stroke="#111" stroke-width="1.8"/>
<line x1="140.00" y1="405.80" x2="140.00" y2="391.69" stroke="#111" stroke-width="1.6"/>
<line x1="135.50" y1="391.69" x2="144.50" y2="391.69" stroke="#111" stroke-width="1.8"/>
<line x1="190.70" y1="404.34" x2="190.70" y2="391.14" stroke="#111" stroke-width="1.6"/>
<line x1="186.20" y1="391.14" x2="195.20" y2="391.14" stroke="#111" stroke-width="1.8"/>
<line x1="241.40" y1="407.79" x2="241.40" y2="394.60" stroke="#111" stroke-width="1.6"/>
<line x1="236.90" y1="394.60" x2="245.90" y2="394.60" stroke="#111" stroke-width="1.8"/>
<line x1="241.40" y1="415.24" x2="241.40" y2="400.28" stroke="#111" stroke-width="1.6"/>
<line x1="236.90" y1="400.28" x2="245.90" y2="400.28" stroke="#111" stroke-width="1.8"/>
<line x1="241.40" y1="448.13" x2="241.40" y2="441.79" stroke="#111" stroke-width="1.6"/>
<line x1="236.90" y1="441.79" x2="245.90" y2="441.79" stroke="#111" stroke-width="1.8"/>
<line x1="292.10" y1="412.28" x2="292.10" y2="399.30" stroke="#111" stroke-width="1.6"/>
<line x1="287.60" y1="399.30" x2="296.60" y2="399.30" stroke="#111" stroke-width="1.8"/>
<line x1="292.10" y1="420.33" x2="292.10" y2="402.66" stroke="#111" stroke-width="1.6"/>
<line x1="287.60" y1="402.66" x2="296.60" y2="402.66" stroke="#111" stroke-width="1.8"/>
<line x1="292.10" y1="455.52" x2="292.10" y2="448.03" stroke="#111" stroke-width="1.6"/>
<line x1="287.60" y1="448.03" x2="296.60" y2="448.03" stroke="#111" stroke-width="1.8"/>
<line x1="393.50" y1="409.36" x2="393.50" y2="404.46" stroke="#111" stroke-width="1.6"/>
<line x1="389.00" y1="404.46" x2="398.00" y2="404.46" stroke="#111" stroke-width="1.8"/>
<line x1="393.50" y1="466.27" x2="393.50" y2="457.51" stroke="#111" stroke-width="1.6"/>
<line x1="389.00" y1="457.51" x2="398.00" y2="457.51" stroke="#111" stroke-width="1.8"/>
<line x1="190.70" y1="428.01" x2="190.70" y2="414.82" stroke="#111" stroke-width="1.6"/>
<line x1="186.20" y1="414.82" x2="195.20" y2="414.82" stroke="#111" stroke-width="1.8"/>
<line x1="241.40" y1="431.19" x2="241.40" y2="418.33" stroke="#111" stroke-width="1.6"/>
<line x1="236.90" y1="418.33" x2="245.90" y2="418.33" stroke="#111" stroke-width="1.8"/>
<line x1="292.10" y1="435.87" x2="292.10" y2="422.27" stroke="#111" stroke-width="1.6"/>
<line x1="287.60" y1="422.27" x2="296.60" y2="422.27" stroke="#111" stroke-width="1.8"/>
<line x1="393.50" y1="443.07" x2="393.50" y2="432.04" stroke="#111" stroke-width="1.6"/>
<line x1="389.00" y1="432.04" x2="398.00" y2="432.04" stroke="#111" stroke-width="1.8"/>
<line x1="494.90" y1="442.23" x2="494.90" y2="430.64" stroke="#111" stroke-width="1.6"/>
<line x1="490.40" y1="430.64" x2="499.40" y2="430.64" stroke="#111" stroke-width="1.8"/>
<line x1="89.30" y1="445.48" x2="89.30" y2="435.04" stroke="#111" stroke-width="1.6"/>
<line x1="84.80" y1="435.04" x2="93.80" y2="435.04" stroke="#111" stroke-width="1.8"/>
<line x1="89.30" y1="456.44" x2="89.30" y2="446.28" stroke="#111" stroke-width="1.6"/>
<line x1="84.80" y1="446.28" x2="93.80" y2="446.28" stroke="#111" stroke-width="1.8"/>
<line x1="494.90" y1="413.76" x2="494.90" y2="408.40" stroke="#111" stroke-width="1.6"/>
<line x1="490.40" y1="408.40" x2="499.40" y2="408.40" stroke="#111" stroke-width="1.8"/>
<line x1="494.90" y1="427.56" x2="494.90" y2="419.27" stroke="#111" stroke-width="1.6"/>
<line x1="490.40" y1="419.27" x2="499.40" y2="419.27" stroke="#111" stroke-width="1.8"/>
<line x1="494.90" y1="477.23" x2="494.90" y2="469.49" stroke="#111" stroke-width="1.6"/>
<line x1="490.40" y1="469.49" x2="499.40" y2="469.49" stroke="#111" stroke-width="1.8"/>
<line x1="494.90" y1="454.16" x2="494.90" y2="442.47" stroke="#111" stroke-width="1.6"/>
<line x1="490.40" y1="442.47" x2="499.40" y2="442.47" stroke="#111" stroke-width="1.8"/>
<line x1="393.50" y1="447.19" x2="393.50" y2="443.68" stroke="#111" stroke-width="1.6"/>
<line x1="389.00" y1="443.68" x2="398.00" y2="443.68" stroke="#111" stroke-width="1.8"/>
<circle cx="89.30" cy="520.18" r="3.50" fill="#bd103b" stroke="#7e0f2e" stroke-width="1.5"/>
<circle cx="140.00" cy="465.02" r="3.50" fill="#bd103b" stroke="#7e0f2e" stroke-width="1.5"/>
<circle cx="190.70" cy="458.09" r="3.50" fill="#bd103b" stroke="#7e0f2e" stroke-width="1.5"/>
<circle cx="241.40" cy="471.43" r="3.50" fill="#bd103b" stroke="#7e0f2e" stroke-width="1.5"/>
<circle cx="292.10" cy="478.96" r="3.50" fill="#bd103b" stroke="#7e0f2e" stroke-width="1.5"/>
<circle cx="393.50" cy="496.97" r="3.50" fill="#bd103b" stroke="#7e0f2e" stroke-width="1.5"/>
<circle cx="494.90" cy="511.96" r="3.50" fill="#bd103b" stroke="#7e0f2e" stroke-width="1.5"/>
<circle cx="89.30" cy="476.64" r="3.90" fill="#ffffff" stroke="#7e0f2e" stroke-width="2.0"/>
<circle cx="114.65" cy="450.25" r="3.90" fill="#ffffff" stroke="#7e0f2e" stroke-width="2.0"/>
<circle cx="140.00" cy="433.80" r="3.90" fill="#ffffff" stroke="#7e0f2e" stroke-width="2.0"/>
<circle cx="190.70" cy="440.99" r="3.90" fill="#ffffff" stroke="#7e0f2e" stroke-width="2.0"/>
<circle cx="241.40" cy="448.13" r="3.90" fill="#ffffff" stroke="#7e0f2e" stroke-width="2.0"/>
<circle cx="292.10" cy="455.52" r="3.90" fill="#ffffff" stroke="#7e0f2e" stroke-width="2.0"/>
<circle cx="393.50" cy="466.27" r="3.90" fill="#ffffff" stroke="#7e0f2e" stroke-width="2.0"/>
<circle cx="494.90" cy="477.23" r="3.90" fill="#ffffff" stroke="#7e0f2e" stroke-width="2.0"/>
<path d="M85.70,453.24H92.90L89.30,460.04Z" fill="#2c4f8c" stroke="#1f3262" stroke-width="1.5" stroke-linejoin="miter"/>
<path d="M111.05,437.60H118.25L114.65,444.40Z" fill="#2c4f8c" stroke="#1f3262" stroke-width="1.5" stroke-linejoin="miter"/>
<path d="M136.40,421.99H143.60L140.00,428.79Z" fill="#2c4f8c" stroke="#1f3262" stroke-width="1.5" stroke-linejoin="miter"/>
<path d="M187.10,424.81H194.30L190.70,431.61Z" fill="#2c4f8c" stroke="#1f3262" stroke-width="1.5" stroke-linejoin="miter"/>
<path d="M237.80,427.99H245.00L241.40,434.79Z" fill="#2c4f8c" stroke="#1f3262" stroke-width="1.5" stroke-linejoin="miter"/>
<path d="M288.50,432.80H295.70L292.10,439.60Z" fill="#2c4f8c" stroke="#1f3262" stroke-width="1.5" stroke-linejoin="miter"/>
<path d="M389.90,443.99H397.10L393.50,450.79Z" fill="#2c4f8c" stroke="#1f3262" stroke-width="1.5" stroke-linejoin="miter"/>
<path d="M491.30,450.96H498.50L494.90,457.76Z" fill="#2c4f8c" stroke="#1f3262" stroke-width="1.5" stroke-linejoin="miter"/>
<path d="M85.70,421.24H92.90L89.30,428.04Z" fill="#ffffff" stroke="#1f3262" stroke-width="2.0" stroke-linejoin="miter"/>
<path d="M111.05,418.04H118.25L114.65,424.84Z" fill="#ffffff" stroke="#1f3262" stroke-width="2.0" stroke-linejoin="miter"/>
<path d="M136.40,413.50H143.60L140.00,420.30Z" fill="#ffffff" stroke="#1f3262" stroke-width="2.0" stroke-linejoin="miter"/>
<path d="M187.10,412.29H194.30L190.70,419.09Z" fill="#ffffff" stroke="#1f3262" stroke-width="2.0" stroke-linejoin="miter"/>
<path d="M237.80,411.96H245.00L241.40,418.76Z" fill="#ffffff" stroke="#1f3262" stroke-width="2.0" stroke-linejoin="miter"/>
<path d="M288.50,410.97H295.70L292.10,417.77Z" fill="#ffffff" stroke="#1f3262" stroke-width="2.0" stroke-linejoin="miter"/>
<path d="M389.90,416.84H397.10L393.50,423.64Z" fill="#ffffff" stroke="#1f3262" stroke-width="2.0" stroke-linejoin="miter"/>
<path d="M491.30,424.36H498.50L494.90,431.16Z" fill="#ffffff" stroke="#1f3262" stroke-width="2.0" stroke-linejoin="miter"/>
<rect x="85.40" y="433.09" width="7.80" height="7.80" fill="#5ba646" stroke="#629c4e" stroke-width="1.6"/>
<rect x="110.75" y="409.31" width="7.80" height="7.80" fill="#5ba646" stroke="#629c4e" stroke-width="1.6"/>
<rect x="136.10" y="401.90" width="7.80" height="7.80" fill="#5ba646" stroke="#629c4e" stroke-width="1.6"/>
<rect x="186.80" y="405.60" width="7.80" height="7.80" fill="#5ba646" stroke="#629c4e" stroke-width="1.6"/>
<rect x="237.50" y="411.34" width="7.80" height="7.80" fill="#5ba646" stroke="#629c4e" stroke-width="1.6"/>
<rect x="288.20" y="416.43" width="7.80" height="7.80" fill="#5ba646" stroke="#629c4e" stroke-width="1.6"/>
<rect x="389.60" y="426.46" width="7.80" height="7.80" fill="#5ba646" stroke="#629c4e" stroke-width="1.6"/>
<rect x="491.00" y="430.67" width="7.80" height="7.80" fill="#5ba646" stroke="#629c4e" stroke-width="1.6"/>
<rect x="85.40" y="441.58" width="7.80" height="7.80" fill="#ffffff" stroke="#629c4e" stroke-width="1.6"/>
<rect x="110.75" y="427.57" width="7.80" height="7.80" fill="#ffffff" stroke="#629c4e" stroke-width="1.6"/>
<rect x="136.10" y="421.29" width="7.80" height="7.80" fill="#ffffff" stroke="#629c4e" stroke-width="1.6"/>
<rect x="186.80" y="424.11" width="7.80" height="7.80" fill="#ffffff" stroke="#629c4e" stroke-width="1.6"/>
<rect x="237.50" y="427.29" width="7.80" height="7.80" fill="#ffffff" stroke="#629c4e" stroke-width="1.6"/>
<rect x="288.20" y="431.97" width="7.80" height="7.80" fill="#ffffff" stroke="#629c4e" stroke-width="1.6"/>
<rect x="389.60" y="439.17" width="7.80" height="7.80" fill="#ffffff" stroke="#629c4e" stroke-width="1.6"/>
<rect x="491.00" y="438.33" width="7.80" height="7.80" fill="#ffffff" stroke="#629c4e" stroke-width="1.6"/>
<path d="M89.30,420.33L93.50,424.53L89.30,428.73L85.10,424.53Z" fill="#4b2378" stroke="#35194f" stroke-width="1.5"/>
<path d="M114.65,408.23L118.85,412.43L114.65,416.63L110.45,412.43Z" fill="#4b2378" stroke="#35194f" stroke-width="1.5"/>
<path d="M140.00,398.41L144.20,402.61L140.00,406.81L135.80,402.61Z" fill="#4b2378" stroke="#35194f" stroke-width="1.5"/>
<path d="M190.70,400.14L194.90,404.34L190.70,408.54L186.50,404.34Z" fill="#4b2378" stroke="#35194f" stroke-width="1.5"/>
<path d="M241.40,404.60L245.60,408.80L241.40,413.00L237.20,408.80Z" fill="#4b2378" stroke="#35194f" stroke-width="1.5"/>
<path d="M292.10,409.01L296.30,413.21L292.10,417.41L287.90,413.21Z" fill="#4b2378" stroke="#35194f" stroke-width="1.5"/>
<path d="M393.50,415.84L397.70,420.04L393.50,424.24L389.30,420.04Z" fill="#4b2378" stroke="#35194f" stroke-width="1.5"/>
<path d="M494.90,423.36L499.10,427.56L494.90,431.76L490.70,427.56Z" fill="#4b2378" stroke="#35194f" stroke-width="1.5"/>
<path d="M89.30,410.66L93.80,415.16L89.30,419.66L84.80,415.16Z" fill="#ffffff" stroke="#35194f" stroke-width="2.0"/>
<path d="M114.65,407.93L119.15,412.43L114.65,416.93L110.15,412.43Z" fill="#ffffff" stroke="#35194f" stroke-width="2.0"/>
<path d="M140.00,407.47L144.50,411.97L140.00,416.47L135.50,411.97Z" fill="#ffffff" stroke="#35194f" stroke-width="2.0"/>
<path d="M190.70,407.62L195.20,412.12L190.70,416.62L186.20,412.12Z" fill="#ffffff" stroke="#35194f" stroke-width="2.0"/>
<path d="M241.40,403.29L245.90,407.79L241.40,412.29L236.90,407.79Z" fill="#ffffff" stroke="#35194f" stroke-width="2.0"/>
<path d="M292.10,407.78L296.60,412.28L292.10,416.78L287.60,412.28Z" fill="#ffffff" stroke="#35194f" stroke-width="2.0"/>
<path d="M393.50,404.86L398.00,409.36L393.50,413.86L389.00,409.36Z" fill="#ffffff" stroke="#35194f" stroke-width="2.0"/>
<path d="M494.90,409.26L499.40,413.76L494.90,418.26L490.40,413.76Z" fill="#ffffff" stroke="#35194f" stroke-width="2.0"/>
<line x1="110.00" y1="517.20" x2="134.60" y2="517.20" stroke="#7e0f2e" stroke-width="1.4"/>
<circle cx="122.30" cy="517.20" r="3.32" fill="#bd103b" stroke="#7e0f2e" stroke-width="1.5"/>
<text x="138.80" y="520.40" font-size="11" text-anchor="start" font-weight="normal" fill="#3a3a3a" textLength="101.2" lengthAdjust="spacingAndGlyphs">Duvelisib 8 mg BID</text>
<line x1="110.00" y1="534.65" x2="134.60" y2="534.65" stroke="#7e0f2e" stroke-width="1.4"/>
<circle cx="122.30" cy="534.65" r="3.70" fill="#ffffff" stroke="#7e0f2e" stroke-width="2.0"/>
<text x="138.80" y="537.85" font-size="11" text-anchor="start" font-weight="normal" fill="#3a3a3a" textLength="108.2" lengthAdjust="spacingAndGlyphs">Duvelisib 15 mg BID</text>
<line x1="110.00" y1="552.10" x2="134.60" y2="552.10" stroke="#1f3262" stroke-width="1.4"/>
<path d="M118.88,549.06H125.72L122.30,555.52Z" fill="#2c4f8c" stroke="#1f3262" stroke-width="1.5" stroke-linejoin="miter"/>
<text x="138.80" y="555.30" font-size="11" text-anchor="start" font-weight="normal" fill="#3a3a3a" textLength="108.2" lengthAdjust="spacingAndGlyphs">Duvelisib 25 mg BID</text>
<line x1="110.00" y1="569.55" x2="134.60" y2="569.55" stroke="#1f3262" stroke-width="1.4"/>
<path d="M118.88,566.51H125.72L122.30,572.97Z" fill="#ffffff" stroke="#1f3262" stroke-width="2.0" stroke-linejoin="miter"/>
<text x="138.80" y="572.75" font-size="11" text-anchor="start" font-weight="normal" fill="#3a3a3a" textLength="108.2" lengthAdjust="spacingAndGlyphs">Duvelisib 35 mg BID</text>
<line x1="269.70" y1="517.20" x2="294.30" y2="517.20" stroke="#629c4e" stroke-width="1.4"/>
<rect x="278.30" y="513.50" width="7.41" height="7.41" fill="#5ba646" stroke="#629c4e" stroke-width="1.6"/>
<text x="298.50" y="520.40" font-size="11" text-anchor="start" font-weight="normal" fill="#3a3a3a" textLength="108.0" lengthAdjust="spacingAndGlyphs">Duvelisib 50 mg BID</text>
<line x1="269.70" y1="534.65" x2="294.30" y2="534.65" stroke="#629c4e" stroke-width="1.4"/>
<rect x="278.30" y="530.95" width="7.41" height="7.41" fill="#ffffff" stroke="#629c4e" stroke-width="1.6"/>
<text x="298.50" y="537.85" font-size="11" text-anchor="start" font-weight="normal" fill="#3a3a3a" textLength="108.0" lengthAdjust="spacingAndGlyphs">Duvelisib 60 mg BID</text>
<line x1="269.70" y1="552.10" x2="294.30" y2="552.10" stroke="#35194f" stroke-width="1.4"/>
<path d="M282.00,548.11L285.99,552.10L282.00,556.09L278.01,552.10Z" fill="#4b2378" stroke="#35194f" stroke-width="1.5"/>
<text x="298.50" y="555.30" font-size="11" text-anchor="start" font-weight="normal" fill="#3a3a3a" textLength="108.0" lengthAdjust="spacingAndGlyphs">Duvelisib 75 mg BID</text>
<line x1="269.70" y1="569.55" x2="294.30" y2="569.55" stroke="#35194f" stroke-width="1.4"/>
<path d="M282.00,565.28L286.27,569.55L282.00,573.83L277.73,569.55Z" fill="#ffffff" stroke="#35194f" stroke-width="2.0"/>
<text x="298.50" y="572.75" font-size="11" text-anchor="start" font-weight="normal" fill="#3a3a3a" textLength="114.3" lengthAdjust="spacingAndGlyphs">Duvelisib 100 mg BID</text>
<text x="240.80" y="349.60" font-size="14.5" text-anchor="start" font-weight="bold" fill="#111" textLength="102.4" lengthAdjust="spacingAndGlyphs">Cycle 2, Day 1</text>
<text x="248.00" y="626.40" font-size="15.2" text-anchor="start" font-weight="normal" fill="#1e1e1e" textLength="90.6" lengthAdjust="spacingAndGlyphs" stroke="#1e1e1e" stroke-width="0.25">Nominal time (h)</text>
<text x="0" y="0" transform="translate(25.0,600.30) rotate(-90)" font-size="15" fill="#1e1e1e" stroke="#1e1e1e" stroke-width="0.25" textLength="96.0" lengthAdjust="spacingAndGlyphs">Mean (SD) plasma</text>
<text x="0" y="0" transform="translate(25.0,501.50) rotate(-90)" font-size="15" fill="#1e1e1e" stroke="#1e1e1e" stroke-width="0.25" textLength="39.6" lengthAdjust="spacingAndGlyphs">IPI-145</text>
<text x="0" y="0" transform="translate(25.0,458.80) rotate(-90)" font-size="15" fill="#1e1e1e" stroke="#1e1e1e" stroke-width="0.25" textLength="116.5" lengthAdjust="spacingAndGlyphs">concentration (ng/mL)</text>
<rect x="1" y="1" width="518" height="639" fill="none" stroke="#000" stroke-width="2"/>
</svg>
</body></html>
